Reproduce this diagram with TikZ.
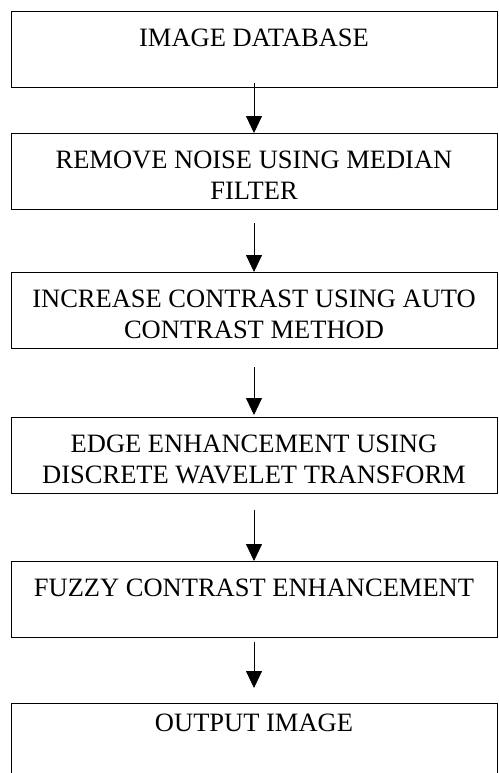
\documentclass[tikz,border=0pt]{standalone}
\usepackage{fontspec}
\setmainfont{Liberation Serif}
\usetikzlibrary{positioning}
\usetikzlibrary{arrows.meta}
\def\boxwidth{243pt}
\def\boxheight{38pt}
\def\toppad{9pt}
\newcommand{\stagetext}[2][\toppad]{%
  \parbox[c][\boxheight][t]{\boxwidth}{\vspace*{#1}\centering #2}}
\tikzset{
line width=1pt, % All lines the same
>={Triangle[length=8.5pt,width=8pt]}, % All arrows with a filled triangle
my stage/.style={draw,inner sep=0pt,outer sep=0pt,
  font=\fontsize{13.25}{15.5}\selectfont},
}
\begin{document}
\begin{tikzpicture}
\useasboundingbox (0,0) rectangle (249.5pt,-386.5pt);
\node[my stage,anchor=north west] (db) at (5.5pt,-5.5pt) {\stagetext{IMAGE DATABASE}};
\node[my stage,below=23pt of db] (noise) {\stagetext{REMOVE NOISE USING MEDIAN\\ FILTER}};
\node[my stage,below=31.5pt of noise] (contrast) {\stagetext{INCREASE CONTRAST USING AUTO\\ CONTRAST METHOD}};
\node[my stage,below=34.5pt of contrast] (edge) {\stagetext{EDGE ENHANCEMENT USING\\ DISCRETE WAVELET TRANSFORM}};
\node[my stage,below=34pt of edge] (fuzzy) {\stagetext{FUZZY CONTRAST ENHANCEMENT}};
\node[my stage,below=33pt of fuzzy] (out) {\stagetext[5.5pt]{OUTPUT IMAGE}};
\draw[->,shorten <=-2pt] (db.south) -- (noise.north);
\draw[->,shorten <=7pt] (noise.south) -- (contrast.north);
\draw[->,shorten <=9.5pt,shorten >=1pt] (contrast.south) -- (edge.north);
\draw[->,shorten <=8.5pt] (edge.south) -- (fuzzy.north);
\draw[->,shorten <=2.5pt,shorten >=7.5pt] (fuzzy.south) -- (out.north);
\end{tikzpicture}
\end{document}
